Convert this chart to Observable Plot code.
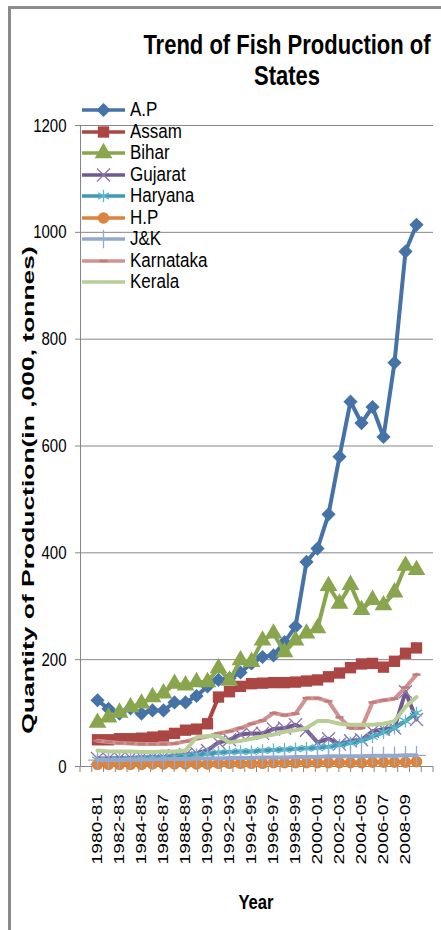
<!DOCTYPE html>
<html><head><meta charset="utf-8">
<script src="https://cdn.jsdelivr.net/npm/d3@7"></script>
<script src="https://cdn.jsdelivr.net/npm/@observablehq/plot@0.6"></script>
<style>
html,body{margin:0;padding:0;background:#fff;}
#wrap{position:relative;width:441px;height:930px;overflow:hidden;font-family:"Liberation Sans",Arial,sans-serif;color:#000;}
#frame{position:absolute;left:8px;top:6px;width:460px;height:960px;border-left:3px solid #8b8b8b;border-top:3px solid #8b8b8b;box-sizing:border-box;}
#chart{position:absolute;left:0;top:0;}
.t{position:absolute;white-space:nowrap;}
#title{font-weight:bold;font-size:22px;line-height:24.5px;text-align:center;transform-origin:top center;}
#ylab{font-weight:bold;font-size:16.5px;line-height:20px;}
#xlab{font-weight:bold;font-size:16.6px;line-height:20px;}
.lg{position:absolute;left:81px;height:20px;display:flex;align-items:center;}
.lg span{display:inline-block;font-size:17px;line-height:20px;margin-left:4px;transform:scaleY(1.23);}
</style></head><body>
<div id="wrap">
  <div id="frame"></div>
  <div id="chart"></div>
  <div id="title" class="t">Trend of Fish Production of<br>States</div>
  <div id="ylab" class="t">Quantity of Production(in ,000, tonnes)</div>
  <div id="xlab" class="t">Year</div>
  <div id="legend"></div>
</div>
<script>
// ---------- data ----------
const years = ["1980-81","1981-82","1982-83","1983-84","1984-85","1985-86","1986-87","1987-88","1988-89","1989-90",
  "1990-91","1991-92","1992-93","1993-94","1994-95","1995-96","1996-97","1997-98","1998-99","1999-00",
  "2000-01","2001-02","2002-03","2003-04","2004-05","2005-06","2006-07","2007-08","2008-09","2009-10"];
const states = ["A.P","Assam","Bihar","Gujarat","Haryana","H.P","J&K","Karnataka","Kerala"];
const ap        = [124,108,99,109,99,105,105,120,120,132,150,162,165,176,193,205,208,233,262,383,408,472,580,683,643,673,617,756,964,1014];
const assam     = [50,50,52,52,53,55,57,62,68,70,80,130,140,150,155,156,157,157,158,160,162,168,175,185,192,193,186,197,212,222];
const bihar     = [82,92,101,111,118,130,137,155,152,158,158,184,161,199,196,236,249,214,236,249,259,338,305,340,293,312,302,326,376,368];
const gujarat   = [15,15,16,16,17,18,18,20,22,25,30,45,50,60,62,62,70,72,78,68,45,52,42,48,50,66,70,72,140,88];
const haryana   = [12,12,13,14,15,16,17,18,20,22,24,26,27,28,28,30,31,32,33,34,35,37,40,44,48,56,64,72,85,100];
const hp        = [4,4,4,4,4,5,5,5,5,5,5,6,6,6,6,6,7,7,7,7,7,7,7,7,7,8,8,8,8,9];
const jk        = [12,12,12,13,13,13,14,14,14,15,15,15,16,16,16,17,17,17,18,18,18,19,19,19,19,20,20,20,21,21];
const karnataka = [48,46,44,43,42,42,42,43,47,52,56,62,66,72,80,86,100,96,99,128,128,122,92,72,72,120,124,127,148,172];
const kerala    = [30,28,28,28,27,27,28,28,30,55,57,57,45,48,52,56,60,65,68,72,85,85,80,78,78,78,80,85,112,130];
const yTicks = [0,200,400,600,800,1000,1200];
const xTickLabels = years.filter((d, i) => i % 2 === 0);

// ---------- styles ----------
const seriesValues = [ap, assam, bihar, gujarat, haryana, hp, jk, karnataka, kerala];
const colors = ["#4572A7","#AA4643","#89A54E","#71588F","#4198AF","#DB843D","#93A9CF","#D19392","#B9CD96"];
const markColors = ["#4572A7","#AA4643","#89A54E","#8a76ad","#5bb8d0","#DB843D","#93A9CF","#c27a79",null];
const dash = {draw(ctx, size){ const r = Math.sqrt(size / Math.PI); ctx.moveTo(-r, 0); ctx.lineTo(r, 0); }};
const symbols = ["diamond2","square","triangle","times","asterisk","circle","plus",dash,null];
const d3Sym = {diamond2:d3.symbolDiamond2, square:d3.symbolSquare, triangle:d3.symbolTriangle, times:d3.symbolTimes,
  asterisk:d3.symbolAsterisk, circle:d3.symbolCircle, plus:d3.symbolPlus};
const filled = [true,true,true,false,false,true,false,false,false];
const radii = [6.4,6.4,6.6,6,6,5.8,6,4,0];

const rows = states.map((s, k) => years.map((y, i) => ({year: y, state: s, value: seriesValues[k][i]})));

const seriesMarks = states.flatMap((s, k) => {
  const m = [Plot.lineY(rows[k], {x: "year", y: "value", stroke: colors[k], strokeWidth: 4, strokeLinejoin: "round"})];
  if (symbols[k]) {
    m.push(Plot.dot(rows[k], {x: "year", y: "value", symbol: symbols[k], r: radii[k],
      fill: filled[k] ? markColors[k] : "none", stroke: filled[k] ? "none" : markColors[k],
      strokeWidth: filled[k] ? 0 : (k === 7 ? 2.5 : 1.3)}));
  }
  return m;
});

const chart = Plot.plot({
  width: 441, height: 930,
  marginTop: 125, marginBottom: 164, marginLeft: 80, marginRight: 8,
  style: {fontFamily: '"Liberation Sans", Arial, sans-serif', fontSize: "15px", color: "#000", background: "transparent", overflow: "visible"},
  x: {type: "point", domain: years, padding: 0.5},
  y: {domain: [0, 1200]},
  marks: [
    Plot.ruleY(yTicks, {stroke: "#868686", strokeWidth: 1}),
    Plot.axisY({ticks: yTicks, tickFormat: d => String(d), tickSize: 5, tickPadding: 9, stroke: "#868686", fill: "#000", fontSize: 15, label: null}),
    Plot.axisX({ticks: xTickLabels, tickSize: 0, tickPadding: 27, tickRotate: -90, fill: "#000", fontSize: 15, label: null}),
    ...seriesMarks
  ]
});
document.getElementById("chart").append(chart);

// axis line and category ticks, derived from the scales
const xs = chart.scale("x"), ys = chart.scale("y");
const svg = d3.select(chart);
const [x0, x1] = xs.range;
const yBase = ys.apply(0), yTop = ys.apply(1200);
const g = svg.insert("g", ":first-child").attr("stroke", "#868686").attr("stroke-width", 1);
g.append("line").attr("x1", x0 + 0.5).attr("x2", x0 + 0.5).attr("y1", yTop).attr("y2", yBase);
const step = (x1 - x0) / years.length;
for (let i = 0; i <= years.length; i++) {
  const xx = x0 + i * step;
  g.append("line").attr("x1", xx).attr("x2", xx).attr("y1", yBase).attr("y2", yBase + 6);
}

// text stretching (reference text is vertically stretched)
const S = 1.26;
let xGroup = null;
svg.selectAll("text").each(function() {
  const p = this.parentNode && this.parentNode.getAttribute("aria-label") || "";
  const len = this.getComputedTextLength();
  if (p.startsWith("y-axis")) {
    this.setAttribute("font-size", 15 * S);
    this.setAttribute("textLength", len);
    this.setAttribute("lengthAdjust", "spacingAndGlyphs");
  } else if (p.startsWith("x-axis")) {
    xGroup = this.parentNode;
    this.setAttribute("textLength", len * 1.28);
    this.setAttribute("lengthAdjust", "spacingAndGlyphs");
  }
});
// place the x tick labels so that their top sits 28px under the baseline (screen coords)
if (xGroup) {
  const svgTop = chart.getBoundingClientRect().top;
  const top = xGroup.getBoundingClientRect().top - svgTop;
  const shift = (yBase + 28) - top;
  const prev = xGroup.getAttribute("transform") || "";
  xGroup.setAttribute("transform", (prev + ` translate(0,${shift})`).trim());
}

// title
const title = document.getElementById("title");
title.style.left = "287px"; title.style.top = "30px";
title.style.transform = "translateX(-50%) scaleY(1.26)";
// y label
const ylab = document.getElementById("ylab");
ylab.style.left = "28px"; ylab.style.top = "490px";
const k = 487 / ylab.offsetWidth;
ylab.style.transform = `translate(-50%,-50%) rotate(-90deg) scaleX(${k})`;
// x label
const xlab = document.getElementById("xlab");
xlab.style.left = "256px"; xlab.style.top = "903px";
xlab.style.transform = "translate(-50%,-50%) scaleY(1.26)";

// legend
const legend = d3.select("#legend");
states.forEach((s, i) => {
  const row = legend.append("div").attr("class", "lg").style("top", (100 + 21.5 * i) + "px");
  const sw = row.append("svg").attr("width", 45).attr("height", 20);
  sw.append("line").attr("x1", 1).attr("x2", 44).attr("y1", 10).attr("y2", 10)
    .attr("stroke", colors[i]).attr("stroke-width", 3.5);
  if (symbols[i]) {
    const size = Math.PI * radii[i] * radii[i];
    const path = symbols[i] === dash ? d3.symbol(dash, size)() : d3.symbol(d3Sym[symbols[i]], size)();
    sw.append("path").attr("d", path).attr("transform", "translate(22.5,10)")
      .attr("fill", filled[i] ? markColors[i] : "none")
      .attr("stroke", filled[i] ? "none" : markColors[i])
      .attr("stroke-width", filled[i] ? 0 : (i === 7 ? 2.5 : 1.3));
  }
  row.append("span").text(s);
});
</script>
</body></html>
